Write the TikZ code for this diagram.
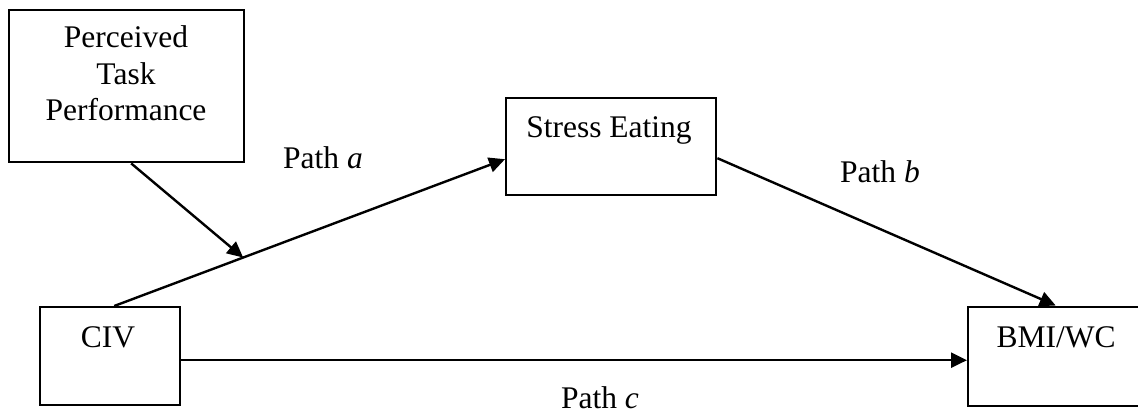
\documentclass[tikz,border=0pt]{standalone}
\usepackage{fontspec}
\setmainfont{Liberation Serif}
\usetikzlibrary{arrows.meta}
\begin{document}
\begin{tikzpicture}[x=1pt,y=-1pt,
  box/.style={draw,line width=2.4pt,inner sep=0pt,anchor=north west},
  txt/.style={anchor=base,inner sep=0pt,font=\fontsize{31.5}{38}\selectfont},
  conn/.style={line width=2.4pt},
  arr/.style={conn,-{Triangle[length=16pt,width=15pt]}}]
\useasboundingbox (0,0) rectangle (1138,414);

% boxes
\node[box,minimum width=235pt,minimum height=152pt] (ptp) at (8,9) {};
\node[box,minimum width=210pt,minimum height=97pt] (se) at (505,97) {};
\node[box,minimum width=140pt,minimum height=98pt] (civ) at (39,306) {};
\node[box,minimum width=175pt,minimum height=99pt] (bmi) at (967,305.5) {};

% box texts
\node[txt] (ptp1) at (126,48) {Perceived};
\node[txt] (ptp2) at (126,84.5) {Task};
\node[txt] (ptp3) at (126,121) {Performance};
\node[txt] (setext) at (609,138) {Stress Eating};
\node[txt] (civtext) at (108,347) {CIV};
\node[txt] (bmitext) at (1056,347) {BMI/WC};

% paths
\draw[arr] (civ.north) ++(4,0) -- ([yshift=-12.5pt]se.west)
  coordinate[pos=0.33] (mod);
\draw[arr] ([xshift=4.5pt]ptp.south) -- (mod);
\draw[arr] ([yshift=-11.5pt]se.east) -- (bmi.north);
\draw[arr] ([yshift=-4pt]civ.east) -- ([yshift=-4pt]bmi.west);

% path labels
\node[txt] (pa) at (323,169) {Path \textit{a}};
\node[txt] (pb) at (880,183) {Path \textit{b}};
\node[txt] (pc) at (600,408) {Path \textit{c}};
\end{tikzpicture}
\end{document}
